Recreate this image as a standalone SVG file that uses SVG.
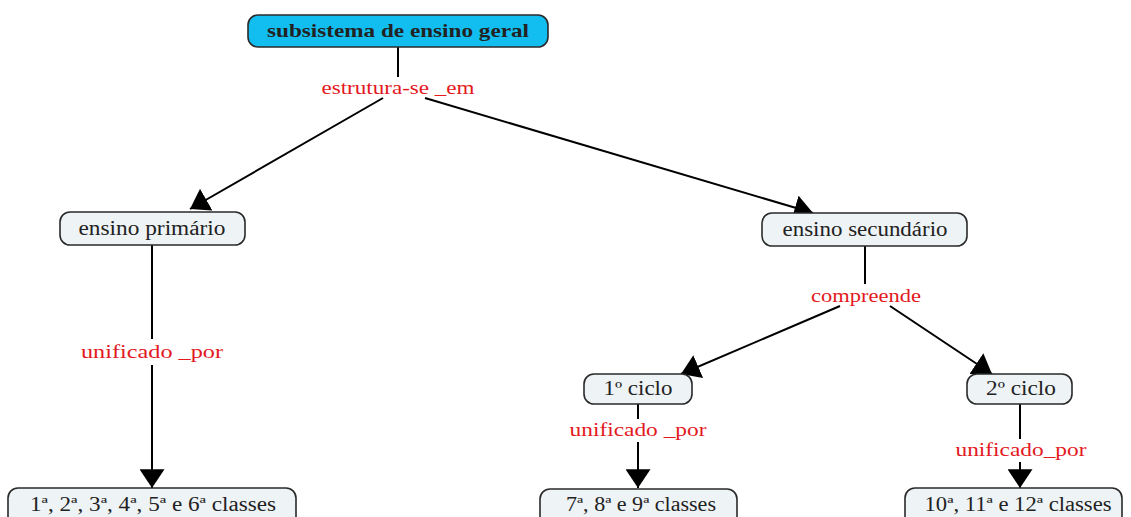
<svg xmlns="http://www.w3.org/2000/svg" width="1131" height="517" viewBox="0 0 1131 517">
<style>
.node rect{fill:#EEF3F6;stroke:#2a2a2a;stroke-width:1.6}
.node text{font-family:'Liberation Serif','Times New Roman',Times,serif;font-size:20px;fill:#222;text-anchor:middle}
.lbl{font-family:'Liberation Serif','Times New Roman',Times,serif;font-size:19px;fill:#E3191E;text-anchor:middle}
.edge{stroke:#000;stroke-width:2;fill:none}
</style>
<defs>
<marker id="arr" viewBox="0 0 18 24" refX="18" refY="12" markerWidth="19" markerHeight="25" markerUnits="userSpaceOnUse" orient="auto">
<path d="M0,0 L18,12 L0,24 z" fill="#000"/>
</marker>
</defs>
<g id="connectors">
<line class="edge" x1="398" y1="47" x2="398" y2="77"/>
<line class="edge" x1="383" y1="98" x2="190" y2="209" marker-end="url(#arr)"/>
<line class="edge" x1="425" y1="98" x2="813" y2="213" marker-end="url(#arr)"/>
<line class="edge" x1="152" y1="245" x2="152" y2="339"/>
<line class="edge" x1="152" y1="365" x2="152" y2="488" marker-end="url(#arr)"/>
<line class="edge" x1="865" y1="246" x2="865" y2="284"/>
<line class="edge" x1="840" y1="306" x2="681" y2="374" marker-end="url(#arr)"/>
<line class="edge" x1="890" y1="306" x2="992" y2="374" marker-end="url(#arr)"/>
<line class="edge" x1="638" y1="404" x2="638" y2="419"/>
<line class="edge" x1="638" y1="442" x2="638" y2="488" marker-end="url(#arr)"/>
<line class="edge" x1="1020" y1="404" x2="1020" y2="439"/>
<line class="edge" x1="1020" y1="462" x2="1020" y2="488" marker-end="url(#arr)"/>
<text class="lbl" x="398" y="94" textLength="153" lengthAdjust="spacingAndGlyphs">estrutura-se _em</text>
<text class="lbl" x="152" y="358" textLength="142" lengthAdjust="spacingAndGlyphs">unificado _por</text>
<text class="lbl" x="866" y="302" textLength="110" lengthAdjust="spacingAndGlyphs">compreende</text>
<text class="lbl" x="638" y="436" textLength="137" lengthAdjust="spacingAndGlyphs">unificado _por</text>
<text class="lbl" x="1021" y="456" textLength="131" lengthAdjust="spacingAndGlyphs">unificado_por</text>
</g>
<g id="n-geral" class="node">
<rect x="248" y="15" width="300" height="32" rx="10" style="fill:#12BEF0"/>
<text x="398" y="37" font-weight="bold" style="font-size:19px" textLength="262" lengthAdjust="spacingAndGlyphs">subsistema de ensino geral</text>
</g>
<g id="n-primario" class="node">
<rect x="60" y="212" width="185" height="33" rx="10"/>
<text x="152" y="235" textLength="147" lengthAdjust="spacingAndGlyphs">ensino primário</text>
</g>
<g id="n-secundario" class="node">
<rect x="762" y="213" width="205" height="33" rx="10"/>
<text x="865" y="236" textLength="165" lengthAdjust="spacingAndGlyphs">ensino secundário</text>
</g>
<g id="n-ciclo1" class="node">
<rect x="584" y="374" width="108" height="30" rx="10"/>
<text x="638" y="395" textLength="69" lengthAdjust="spacingAndGlyphs">1º ciclo</text>
</g>
<g id="n-ciclo2" class="node">
<rect x="967" y="374" width="105" height="30" rx="10"/>
<text x="1021" y="395" textLength="70" lengthAdjust="spacingAndGlyphs">2º ciclo</text>
</g>
<g id="n-classes16" class="node">
<rect x="8" y="488" width="288" height="40" rx="10"/>
<text x="153" y="511" textLength="246" lengthAdjust="spacingAndGlyphs">1ª, 2ª, 3ª, 4ª, 5ª e 6ª classes</text>
</g>
<g id="n-classes79" class="node">
<rect x="540" y="489" width="197" height="40" rx="10"/>
<text x="641" y="511" textLength="150" lengthAdjust="spacingAndGlyphs">7ª, 8ª e 9ª classes</text>
</g>
<g id="n-classes1012" class="node">
<rect x="905" y="488" width="217" height="40" rx="10"/>
<text x="1018" y="511" textLength="187" lengthAdjust="spacingAndGlyphs">10ª, 11ª e 12ª classes</text>
</g>
</svg>
